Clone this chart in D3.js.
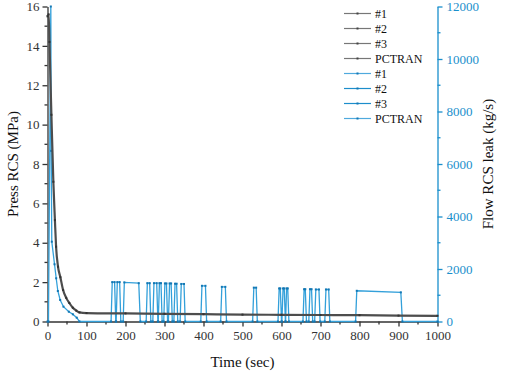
<!DOCTYPE html>
<html>
<head>
<meta charset="utf-8">
<script src="https://cdn.jsdelivr.net/npm/d3@7"></script>
<style>
  body { margin: 0; background: #fff; }
  svg text { font-family: "Liberation Serif", "Times New Roman", serif; }
</style>
</head>
<body>
<svg id="chart"></svg>
<script>
// pressure in the RCS (MPa), the four cases overlap on the plot
const pressTime = [0, 3, 5, 10, 15, 19, 22, 27, 33, 40, 48, 56, 65, 74, 82, 100, 200, 300, 400, 500, 600, 700, 800, 900, 1000];
const pressVal = [15.5, 15.6, 14.2, 10.5, 7.1, 5.15, 3.8, 2.78, 2.25, 1.6, 1.2, 0.94, 0.7, 0.55, 0.46, 0.43, 0.41, 0.39, 0.37, 0.35, 0.34, 0.33, 0.32, 0.3, 0.29];

// RCS leak flow (kg/s)
const flowTime = [0, 2.5, 8.5, 9.5, 11, 18, 22.3, 26.5, 32.5, 41, 54.7, 65, 75, 82,
  163, 166, 172, 175, 176, 179, 185, 188, 194, 197, 234, 238,
  253, 256, 262, 265, 270, 273, 280, 283, 284, 287, 291, 294,
  298, 301, 305, 308, 310, 313, 317, 320, 324, 327, 331, 334,
  340, 343, 350, 353, 393, 396, 405, 408, 444, 447, 456, 459,
  526, 529, 535, 538, 591, 594, 597, 600, 601, 604, 607, 610,
  610.5, 613, 616, 619, 655, 658, 661, 664, 670, 673, 677, 680,
  685, 688, 696, 699, 711, 714, 721, 724, 790, 793, 906, 910, 1000];
const flowVal = [0, 0, 12000, 6500, 3040, 2180, 1646, 1162, 820, 565, 373, 274, 145, 0,
  0, 1500, 1500, 0, 0, 1500, 1500, 0, 0, 1490, 1460, 0,
  0, 1460, 1460, 0, 0, 1460, 1460, 0, 0, 1460, 1460, 0,
  0, 1450, 1450, 0, 0, 1450, 1450, 0, 0, 1440, 1440, 0,
  0, 1430, 1430, 0, 0, 1360, 1360, 0, 0, 1320, 1320, 0,
  0, 1290, 1290, 0, 0, 1260, 1260, 0, 0, 1260, 1260, 0,
  0, 1260, 1260, 0, 0, 1230, 1230, 0, 0, 1230, 1230, 0,
  0, 1220, 1220, 0, 0, 1220, 1220, 0, 0, 1170, 1110, 0, 0];

const legendNames = ["#1", "#2", "#3", "PCTRAN", "#1", "#2", "#3", "PCTRAN"];
const legendColors = ["#777", "#777", "#777", "#777", "#4fa9dd", "#1c8dcb", "#1c8dcb", "#4fa9dd"];

const W = 505, H = 374;
const x0 = 47.5, x1 = 437.5, yTop = 6.5, yBot = 321.5;
const blue = "#1a8fcc";
const serif = "'Liberation Serif', 'Times New Roman', serif";

const svg = d3.select("#chart").attr("width", W).attr("height", H);

const x = d3.scaleLinear().domain([0, 1000]).range([x0, x1]);
const yP = d3.scaleLinear().domain([0, 16]).range([yBot, yTop]);
const yF = d3.scaleLinear().domain([0, 12000]).range([yBot, yTop]);

// axes
const xAxis = svg.append("g").attr("transform", `translate(0,${yBot})`)
  .call(d3.axisBottom(x).tickValues(d3.range(0, 1001, 100)).tickFormat(d3.format("d"))
    .tickSize(5).tickSizeOuter(0).tickPadding(4));
xAxis.append("g").selectAll("line").data(d3.range(50, 1000, 100)).join("line")
  .attr("x1", d => x(d)).attr("x2", d => x(d)).attr("y1", 0).attr("y2", 3);

const yAxisL = svg.append("g").attr("transform", `translate(${x0},0)`)
  .call(d3.axisLeft(yP).tickValues(d3.range(0, 17, 2)).tickFormat(d3.format("d"))
    .tickSize(5).tickSizeOuter(0).tickPadding(3));
yAxisL.append("g").selectAll("line").data(d3.range(1, 16, 2)).join("line")
  .attr("y1", d => yP(d)).attr("y2", d => yP(d)).attr("x1", 0).attr("x2", -3);

const yAxisR = svg.append("g").attr("transform", `translate(${x1},0)`)
  .call(d3.axisRight(yF).tickValues(d3.range(0, 12001, 2000)).tickFormat(d3.format("d"))
    .tickSize(5).tickSizeOuter(0).tickPadding(4));
yAxisR.append("g").selectAll("line").data(d3.range(1000, 12000, 2000)).join("line")
  .attr("y1", d => yF(d)).attr("y2", d => yF(d)).attr("x1", 0).attr("x2", 3);

[xAxis, yAxisL, yAxisR].forEach(g => g.attr("font-family", null).style("font-family", serif));
[xAxis, yAxisL].forEach(g => {
  g.selectAll("path, line").attr("stroke", "#333").attr("stroke-width", 1.3);
  g.selectAll("text").attr("font-size", 13).attr("fill", "#333").style("font-family", serif);
});
yAxisR.selectAll("path, line").attr("stroke", blue).attr("stroke-width", 1.3);
yAxisR.selectAll("text").attr("font-size", 13).attr("fill", blue).style("font-family", serif);

// lines
const pressData = pressTime.map((t, i) => [t, pressVal[i]]);
const flowData = flowTime.map((t, i) => [t, flowVal[i]]);

svg.append("path").datum(flowData)
  .attr("fill", "none").attr("stroke", "#33a0da").attr("stroke-width", 1.3)
  .attr("d", d3.line().x(d => x(d[0])).y(d => yF(d[1])));
svg.append("g").selectAll("rect").data(flowData).join("rect")
  .attr("x", d => x(d[0]) - 1).attr("y", d => yF(d[1]) - 1)
  .attr("width", 2).attr("height", 2).attr("fill", "#1377b3");

svg.append("path").datum(pressData)
  .attr("fill", "none").attr("stroke", "#4d4d4d").attr("stroke-width", 2.2)
  .attr("d", d3.line().curve(d3.curveMonotoneX).x(d => x(d[0])).y(d => yP(d[1])));
svg.append("g").selectAll("rect").data(pressData).join("rect")
  .attr("x", d => x(d[0]) - 1).attr("y", d => yP(d[1]) - 1)
  .attr("width", 2).attr("height", 2).attr("fill", "#333");

// legend
const leg = svg.append("g").selectAll("g").data(legendNames).join("g")
  .attr("transform", (d, i) => `translate(344,${13.5 + i * 15})`);
leg.append("line").attr("x1", 0).attr("x2", 27).attr("y1", 0).attr("y2", 0)
  .attr("stroke", (d, i) => legendColors[i]).attr("stroke-width", 1.2);
leg.append("rect").attr("x", 12.5).attr("y", -1).attr("width", 2).attr("height", 2)
  .attr("fill", (d, i) => i < 4 ? "#444" : "#1377b3");
leg.append("text").attr("x", 31).attr("y", 4).attr("font-size", 12).attr("fill", "#111")
  .text(d => d);

// axis titles
svg.append("text").attr("x", (x0 + x1) / 2).attr("y", 367).attr("text-anchor", "middle")
  .attr("font-size", 15).attr("fill", "#111").text("Time (sec)");
svg.append("text").attr("transform", `translate(18,${(yTop + yBot) / 2}) rotate(-90)`)
  .attr("text-anchor", "middle").attr("font-size", 15).attr("fill", "#111").text("Press RCS (MPa)");
svg.append("text").attr("transform", `translate(493,${(yTop + yBot) / 2}) rotate(-90)`)
  .attr("text-anchor", "middle").attr("font-size", 15).attr("fill", "#111").text("Flow RCS leak (kg/s)");
</script>
</body>
</html>
